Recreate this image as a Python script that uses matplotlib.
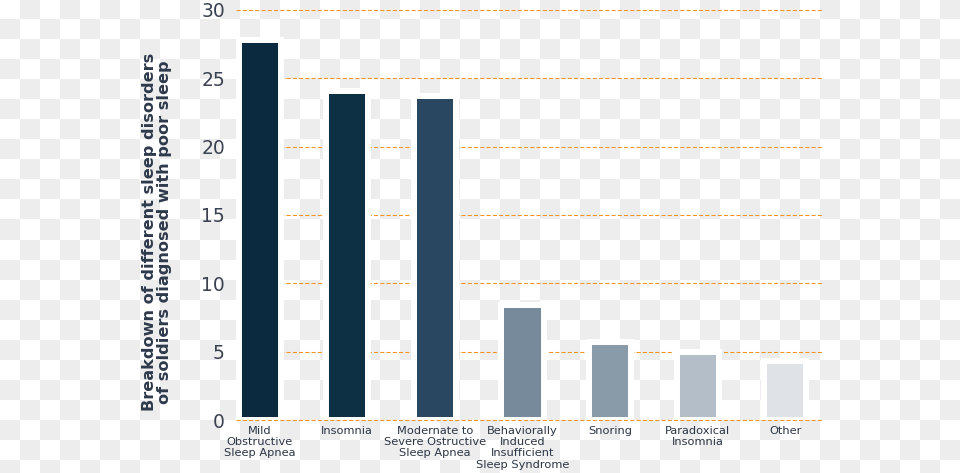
import numpy as np
import matplotlib.pyplot as plt

# data
categories = ['Mild\nObstructive\nSleep Apnea', 'Insomnia',
              'Modernate to\nSevere Ostructive\nSleep Apnea',
              'Behaviorally\nInduced\nInsufficient\nSleep Syndrome',
              'Snoring', 'Paradoxical\nInsomnia', 'Other']
values = [27.8, 24.1, 23.7, 8.4, 5.7, 5.0, 4.3]
bar_colors = ['#0b2a3f', '#0d3044', '#2a4762', '#778a9b', '#899aa8', '#b4bec8', '#dfe3e8']
y_ticks = [0, 5, 10, 15, 20, 25, 30]

W, H = 960, 473
fig = plt.figure(figsize=(W / 100, H / 100), dpi=100)

# transparent-png style checkerboard behind everything
bg = fig.add_axes([0, 0, 1, 1], zorder=-5)
rows, cols = np.indices((H, W)) // 20
checker = np.where((rows + cols) % 2 == 1, 0.929, 1.0)
bg.imshow(checker, cmap='gray', vmin=0, vmax=1, interpolation='nearest',
          aspect='auto', extent=(0, W, H, 0))
bg.axis('off')

ax = fig.add_axes([236 / W, 53 / H, (823 - 236) / W, 410 / H], zorder=1)
ax.patch.set_alpha(0)

x = np.arange(len(categories))
ax.bar(x, values, width=0.48, color=bar_colors, edgecolor='white',
       linewidth=4.3, zorder=3)

ax.set_ylim(0, 30)
ax.set_xlim(-0.27, 6.43)
ax.set_yticks(y_ticks)
ax.set_yticklabels([str(t) for t in y_ticks], fontsize=13.5, color='#3a4150')
ax.set_xticks(x)
ax.set_xticklabels(categories, fontsize=8.2, color='#2b3545', linespacing=1.18)
ax.tick_params(axis='both', length=0)
ax.tick_params(axis='y', pad=8)
ax.tick_params(axis='x', pad=4)

for s in ax.spines.values():
    s.set_visible(False)

ax.yaxis.grid(True, color='#f7941d', linestyle=(0, (4, 2)), linewidth=0.75, zorder=1)
ax.set_axisbelow(True)
ax.axhline(0, color='#f7941d', linestyle=(0, (4, 2)), linewidth=0.75, zorder=1,
           clip_on=False)

fig.text(157 / W, 1 - 232 / H,
         'Breakdown of different sleep disorders\nof soldiers diagnosed with poor sleep',
         rotation=90, ha='center', va='center', fontsize=11.6, fontweight='bold',
         color='#2e3a4c', linespacing=1.0)

fig.savefig('out.png', dpi=100)
